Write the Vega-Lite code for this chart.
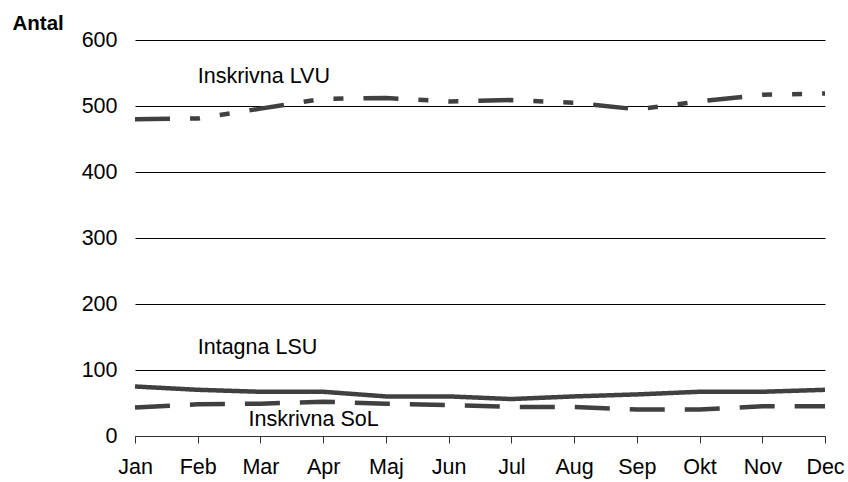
{
  "$schema": "https://vega.github.io/schema/vega-lite/v6.json",
  "width": 690,
  "height": 396,
  "autosize": "none",
  "padding": {"left": 135, "top": 40, "right": 23, "bottom": 46},
  "background": "white",
  "config": {"font": "Liberation Sans", "view": {"stroke": null}},
  "datasets": {
    "series": [
      {"month": "Jan", "series": "Inskrivna LVU", "value": 480},
      {"month": "Feb", "series": "Inskrivna LVU", "value": 481},
      {"month": "Mar", "series": "Inskrivna LVU", "value": 496},
      {"month": "Apr", "series": "Inskrivna LVU", "value": 511},
      {"month": "Maj", "series": "Inskrivna LVU", "value": 512},
      {"month": "Jun", "series": "Inskrivna LVU", "value": 507},
      {"month": "Jul", "series": "Inskrivna LVU", "value": 509},
      {"month": "Aug", "series": "Inskrivna LVU", "value": 505},
      {"month": "Sep", "series": "Inskrivna LVU", "value": 495},
      {"month": "Okt", "series": "Inskrivna LVU", "value": 507},
      {"month": "Nov", "series": "Inskrivna LVU", "value": 517},
      {"month": "Dec", "series": "Inskrivna LVU", "value": 519},
      {"month": "Jan", "series": "Intagna LSU", "value": 75},
      {"month": "Feb", "series": "Intagna LSU", "value": 70},
      {"month": "Mar", "series": "Intagna LSU", "value": 67},
      {"month": "Apr", "series": "Intagna LSU", "value": 67},
      {"month": "Maj", "series": "Intagna LSU", "value": 60},
      {"month": "Jun", "series": "Intagna LSU", "value": 60},
      {"month": "Jul", "series": "Intagna LSU", "value": 56},
      {"month": "Aug", "series": "Intagna LSU", "value": 60},
      {"month": "Sep", "series": "Intagna LSU", "value": 63},
      {"month": "Okt", "series": "Intagna LSU", "value": 67},
      {"month": "Nov", "series": "Intagna LSU", "value": 67},
      {"month": "Dec", "series": "Intagna LSU", "value": 70},
      {"month": "Jan", "series": "Inskrivna SoL", "value": 43},
      {"month": "Feb", "series": "Inskrivna SoL", "value": 48},
      {"month": "Mar", "series": "Inskrivna SoL", "value": 49},
      {"month": "Apr", "series": "Inskrivna SoL", "value": 52},
      {"month": "Maj", "series": "Inskrivna SoL", "value": 49},
      {"month": "Jun", "series": "Inskrivna SoL", "value": 47},
      {"month": "Jul", "series": "Inskrivna SoL", "value": 44},
      {"month": "Aug", "series": "Inskrivna SoL", "value": 44},
      {"month": "Sep", "series": "Inskrivna SoL", "value": 40},
      {"month": "Okt", "series": "Inskrivna SoL", "value": 40},
      {"month": "Nov", "series": "Inskrivna SoL", "value": 45},
      {"month": "Dec", "series": "Inskrivna SoL", "value": 45}
    ],
    "labels": [
      {"month": "Feb", "value": 544, "label": "Inskrivna LVU"},
      {"month": "Feb", "value": 133, "label": "Intagna LSU"}
    ],
    "labels2": [
      {"month": "Mar", "value": 24, "label": "Inskrivna SoL"}
    ]
  },
  "layer": [
    {
      "data": {"name": "series"},
      "mark": {"type": "line", "strokeWidth": 4.5, "color": "#404040"},
      "encoding": {
        "x": {
          "field": "month", "type": "ordinal",
          "sort": ["Jan","Feb","Mar","Apr","Maj","Jun","Jul","Aug","Sep","Okt","Nov","Dec"],
          "scale": {"type": "point", "padding": 0},
          "axis": {
            "title": null, "labelAngle": 0, "grid": false,
            "domain": true, "domainColor": "#333333", "domainWidth": 1,
            "ticks": true, "tickSize": 7, "tickColor": "#333333", "tickWidth": 1,
            "labelFontSize": 21.5, "labelColor": "black", "labelPadding": 13
          }
        },
        "y": {
          "field": "value", "type": "quantitative",
          "scale": {"domain": [0, 600], "nice": false},
          "axis": {
            "values": [0, 100, 200, 300, 400, 500, 600],
            "grid": true, "gridColor": "black", "gridWidth": 1,
            "domain": false, "ticks": false,
            "labelFontSize": 21.5, "labelColor": "black", "labelPadding": 18,
            "title": "Antal", "titleAngle": 0, "titleFontWeight": "bold", "titleFontSize": 20.5,
            "titleColor": "black", "titleAlign": "left", "titleBaseline": "middle",
            "titleX": -123, "titleY": -17
          }
        },
        "strokeDash": {
          "field": "series", "type": "nominal",
          "scale": {
            "domain": ["Inskrivna LVU", "Intagna LSU", "Inskrivna SoL"],
            "range": [[35, 20, 10, 20, 10, 20], [1, 0], [35, 20]]
          },
          "legend": null
        }
      }
    },
    {
      "data": {"name": "labels"},
      "mark": {"type": "text", "align": "left", "baseline": "middle", "fontSize": 21.5, "color": "black"},
      "encoding": {
        "x": {"field": "month", "type": "ordinal", "sort": ["Jan","Feb","Mar","Apr","Maj","Jun","Jul","Aug","Sep","Okt","Nov","Dec"]},
        "y": {"field": "value", "type": "quantitative"},
        "text": {"field": "label"}
      }
    },
    {
      "data": {"name": "labels2"},
      "mark": {"type": "text", "align": "left", "baseline": "middle", "fontSize": 21.5, "color": "black", "dx": -12},
      "encoding": {
        "x": {"field": "month", "type": "ordinal", "sort": ["Jan","Feb","Mar","Apr","Maj","Jun","Jul","Aug","Sep","Okt","Nov","Dec"]},
        "y": {"field": "value", "type": "quantitative"},
        "text": {"field": "label"}
      }
    }
  ]
}
